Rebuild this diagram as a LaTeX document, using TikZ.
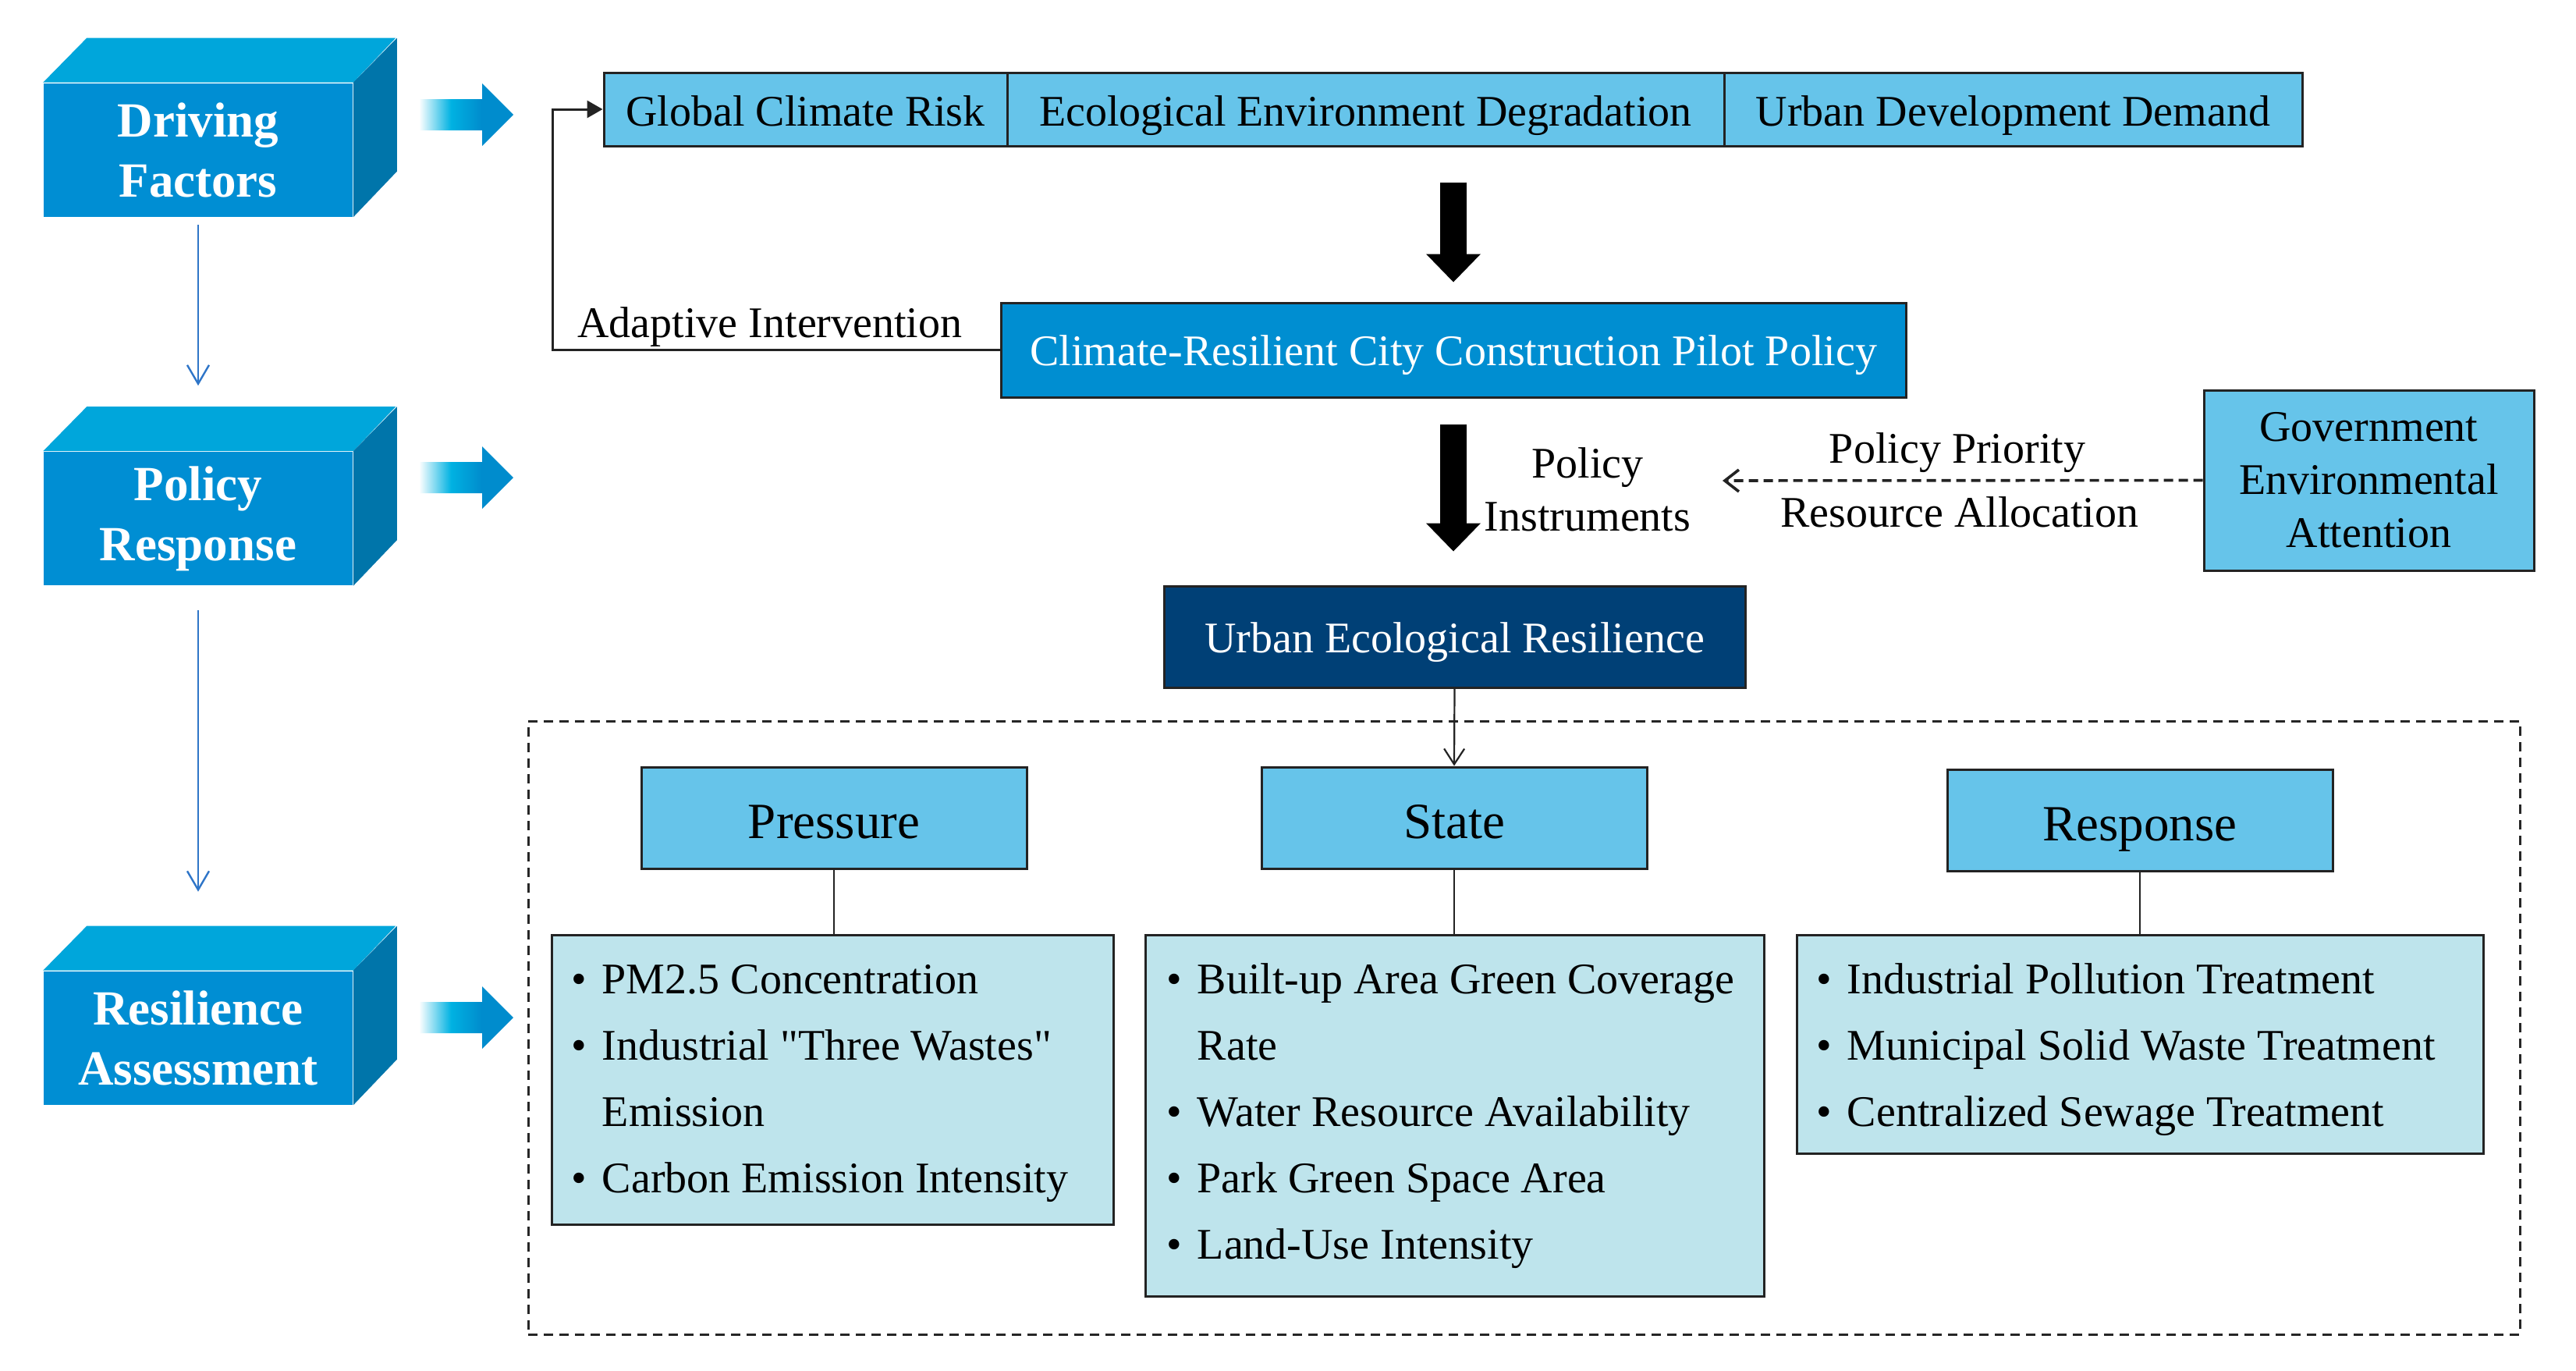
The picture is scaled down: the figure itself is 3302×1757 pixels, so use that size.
\documentclass[tikz,border=0pt]{standalone}
\usepackage{fontspec}
\setmainfont{Liberation Serif}[Ligatures=TeXOff]
\usetikzlibrary{arrows.meta,calc}
\definecolor{cubefront}{RGB}{0,142,211}
\definecolor{cubetop}{RGB}{0,166,219}
\definecolor{cubeside}{RGB}{0,117,170}
\definecolor{lightbox}{RGB}{102,196,234}
\definecolor{climbox}{RGB}{0,142,209}
\definecolor{uerbox}{RGB}{0,64,118}
\definecolor{detailbox}{RGB}{190,228,236}
\definecolor{thinblue}{RGB}{46,117,200}
\definecolor{gcyan}{RGB}{0,178,226}
\definecolor{gblue}{RGB}{0,140,205}
\definecolor{boxline}{RGB}{35,35,35}
\pgfdeclarehorizontalshading{garrow}{100bp}{color(0bp)=(white); color(25bp)=(white); color(42bp)=(gcyan); color(58bp)=(gblue); color(100bp)=(gblue)}
\newcommand\fs{\fontsize{14}{17}\selectfont}
\newcommand\fh{\fontsize{16.25}{19.5}\selectfont}
\newcommand\fb{\fontsize{15.75}{19.25}\selectfont\bfseries}
\tikzset{
  cubeface/.style={fill=cubefront, inner sep=0pt, minimum width=99pt, minimum height=42.75pt, text=white, font=\fb, align=center},
  lbox/.style={draw=boxline, line width=0.75pt, fill=lightbox, inner sep=0pt, font=\fs, text=black, align=center},
  oneline/.style={text height=12pt, text depth=1.1pt},
  cbox/.style={draw=boxline, line width=0.75pt, fill=climbox, inner sep=0pt, font=\fs, text=white, text height=12pt, text depth=2.2pt},
  ubox/.style={draw=boxline, line width=0.75pt, fill=uerbox, inner sep=0pt, font=\fs, text=white, text height=12pt, text depth=1.6pt},
  hbox/.style={draw=boxline, line width=0.75pt, fill=lightbox, inner sep=0pt, font=\fh, text=black, minimum width=123.5pt, minimum height=32.5pt, text height=14pt, text depth=1pt},
  dbox/.style={draw=boxline, line width=0.75pt, fill=detailbox, inner sep=0pt},
  frame/.style={draw=black!85, line width=0.75pt, dash pattern=on 3pt off 2pt, inner sep=0pt},
  lbl/.style={font=\fs, text=black, inner sep=0pt, anchor=base},
  bul/.style={font=\fs, text=black, inner sep=0pt, anchor=base},
  itm/.style={font=\fs, text=black, inner sep=0pt, anchor=base west},
  thinarrow/.style={draw=thinblue, line width=0.6pt, -{Straight Barb[length=6pt,width=7pt]}},
  bigarrow/.style={draw=black, line width=8.5pt, -{Triangle[length=9pt,width=17.5pt,line width=0pt]}},
  fbarrow/.style={draw=boxline, line width=0.75pt, -{Triangle[length=5pt,width=5.5pt]}},
  dasharrow/.style={draw=boxline, line width=0.9pt, dash pattern=on 3pt off 1.75pt, -{Straight Barb[length=4.5pt,width=7pt]}},
  openarrow/.style={draw=boxline, line width=0.55pt, -{Straight Barb[length=5pt,width=6.5pt]}},
  plainline/.style={draw=boxline, line width=0.6pt},
}
\newcommand\cube[4]{%
  \node[cubeface] (#1) at (#2,#3) {#4};
  \fill[cubetop] (#1.north west) -- ++(56,-57) -- ++(396,0) -- (#1.north east) -- cycle;
  \fill[cubeside] (#1.north east) -- ++(56,-57) -- ++(0,171) -- (#1.south east) -- cycle;}
\newcommand\garrow[2]{%
  \shade[shading=garrow] (537,{#2-20}) -- (618,{#2-20}) -- (618,{#2-40}) -- (658,#2) -- (618,{#2+40}) -- (618,{#2+20}) -- (537,{#2+20}) -- cycle;
  \coordinate (#1) at (658,#2);}
\newcommand\bitem[4]{%
  \node[bul] (#1b) at ({#2-29},#3) {\textbullet};
  \node[itm] (#1) at (#2,#3) {#4};}
\begin{document}
\begin{tikzpicture}[x=0.25pt,y=-0.25pt]
\fill[white] (0,0) rectangle (3302,1757);
\useasboundingbox (0,0) rectangle (3302,1757);

% left column cubes
\cube{drv}{254}{192}{Driving\\Factors}
\cube{pol}{254}{664.5}{Policy\\Response}
\cube{res}{254}{1330}{Resilience\\Assessment}
\draw[thinarrow] ([yshift=-2.5pt]drv.south) -- ([yshift=21pt]pol.north);
\draw[thinarrow] ([yshift=-7.75pt]pol.south) -- ([yshift=25.25pt]res.north);

% gradient arrows
\garrow{ga1}{147}
\garrow{ga2}{612}
\garrow{ga3}{1304}

% top row
\node[lbox, oneline, minimum width=129.25pt, minimum height=23.5pt] (gcr) at (1032.5,140) {Global Climate Risk};
\node[lbox, oneline, minimum width=229.75pt, minimum height=23.5pt] (eed) at (1750.5,140) {Ecological Environment Degradation};
\node[lbox, oneline, minimum width=185.25pt, minimum height=23.5pt] (udd) at (2580.5,140) {Urban Development Demand};

% policy box
\node[cbox, minimum width=290pt, minimum height=30.25pt] (clim) at (1863,448.5) {Climate-Resilient City Construction Pilot Policy};
\draw[bigarrow, shorten <=11.25pt, shorten >=6.25pt] (clim.north |- eed.south) -- (clim.north);

% feedback
\coordinate (fbx) at (708,448.5);
\draw[fbarrow] (clim.west) -- (fbx) |- (gcr.west);
\node[lbl] (adapt) at (987,432) {Adaptive Intervention};

% government attention
\node[lbox, minimum width=105.75pt, minimum height=57.75pt] (gov) at (3036.5,615.5) {Government\\Environmental\\Attention};
\coordinate (dashend) at (2208,616);
\draw[dasharrow] (gov.west) -- (dashend);
\node[lbl] (prio) at (2509,593) {Policy Priority};
\node[lbl] (alloc) at (2512,675) {Resource Allocation};

% urban ecological resilience
\node[ubox, minimum width=186.25pt, minimum height=32.5pt] (uer) at (1864.5,816) {Urban Ecological Resilience};
\draw[bigarrow, shorten <=8.25pt, shorten >=10.75pt] (clim.south) -- (clim.south |- uer.north);
\node[font=\fs, align=center, inner sep=0pt] (instr) at (2035,627) {Policy\\Instruments};

% dashed frame
\node[frame, minimum width=638.25pt, minimum height=196.5pt] (frm) at (1953.5,1317) {};

% PSR headers
\node[hbox] (pres) at (1069,1048) {Pressure};
\node[hbox] (stat) at (1864,1048) {State};
\node[hbox] (resp) at (2743,1051) {Response};
\draw[openarrow] (uer.south) -- (stat.north);

% detail boxes
\node[dbox, minimum width=180pt, minimum height=92.75pt] (detp) at (1067,1383.5) {};
\node[dbox, minimum width=198.25pt, minimum height=115.75pt] (dets) at (1864.5,1429.5) {};
\node[dbox, minimum width=220pt, minimum height=70pt] (detr) at (2743,1338) {};
\draw[plainline] (pres.south) -- (pres.south |- detp.north);
\draw[plainline] (stat.south) -- (stat.south |- dets.north);
\draw[plainline] (resp.south) -- (resp.south |- detr.north);

% items
\bitem{p1}{771}{1273}{PM2.5 Concentration}
\bitem{p2}{771}{1358}{Industrial "Three Wastes"}
\node[itm] (p2c) at (771,1443) {Emission};
\bitem{p3}{771}{1528}{Carbon Emission Intensity}

\bitem{s1}{1534}{1273}{Built-up Area Green Coverage}
\node[itm] (s1c) at (1534,1358) {Rate};
\bitem{s2}{1534}{1443}{Water Resource Availability}
\bitem{s3}{1534}{1528}{Park Green Space Area}
\bitem{s4}{1534}{1613}{Land-Use Intensity}

\bitem{r1}{2367}{1273}{Industrial Pollution Treatment}
\bitem{r2}{2367}{1358}{Municipal Solid Waste Treatment}
\bitem{r3}{2367}{1443}{Centralized Sewage Treatment}
\end{tikzpicture}
\end{document}
